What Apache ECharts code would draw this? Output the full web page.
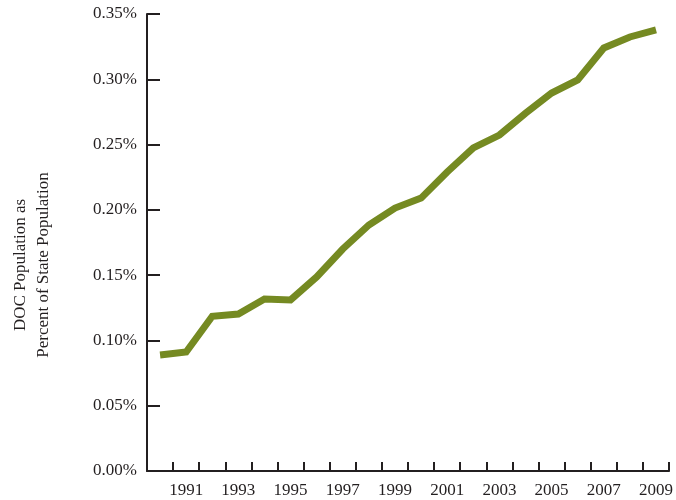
<!DOCTYPE html>
<html>
<head>
<meta charset="utf-8">
<script src="https://cdn.jsdelivr.net/npm/echarts@6/dist/echarts.min.js"></script>
<style>html,body{margin:0;padding:0;background:#fff}#c{width:676px;height:500px}</style>
</head>
<body>
<div id="c"></div>
<script>
var years = ['1990','1991','1992','1993','1994','1995','1996','1997','1998','1999','2000','2001','2002','2003','2004','2005','2006','2007','2008','2009'];
var docPct = [0.0888,0.0911,0.1185,0.1202,0.1317,0.1310,0.1486,0.1700,0.1884,0.2014,0.2090,0.2290,0.2474,0.2573,0.2740,0.2895,0.2995,0.3240,0.3324,0.3378];
var yTitle = ['DOC Population as', 'Percent of State Population'];

var font = '"Liberation Serif", "DejaVu Serif", serif';
var axisColor = '#231f20';
var chart = echarts.init(document.getElementById('c'));
chart.setOption({
  animation: false,
  grid: { left: 147, right: 6, top: 14, bottom: 29, containLabel: false },
  xAxis: {
    type: 'category',
    data: years,
    boundaryGap: true,
    axisLine: { lineStyle: { color: axisColor, width: 2 } },
    axisTick: { show: true, inside: true, length: 9, interval: 0, lineStyle: { color: axisColor, width: 2 } },
    axisLabel: { interval: function (i) { return i % 2 === 1; }, color: '#231f20', fontFamily: font, fontSize: 17, margin: 11 },
    splitLine: { show: false }
  },
  yAxis: {
    type: 'value',
    min: 0, max: 0.35, interval: 0.05,
    axisLine: { show: true, lineStyle: { color: axisColor, width: 2 } },
    axisTick: { show: true, inside: true, length: 13, lineStyle: { color: axisColor, width: 2 } },
    axisLabel: { formatter: function (v) { return v.toFixed(2) + '%'; }, color: '#231f20', fontFamily: font, fontSize: 17, margin: 10 },
    splitLine: { show: false }
  },
  graphic: [{
    type: 'text',
    x: 32, y: 265,
    rotation: Math.PI / 2,
    style: {
      text: yTitle.join('\n'),
      fontFamily: font, fontSize: 17, lineHeight: 23,
      fill: '#231f20', align: 'center', verticalAlign: 'middle'
    }
  }],
  series: [{
    type: 'line',
    data: docPct,
    symbol: 'none',
    lineStyle: { color: '#758a22', width: 7, cap: 'butt', join: 'miter' }
  }]
});
</script>
</body>
</html>
